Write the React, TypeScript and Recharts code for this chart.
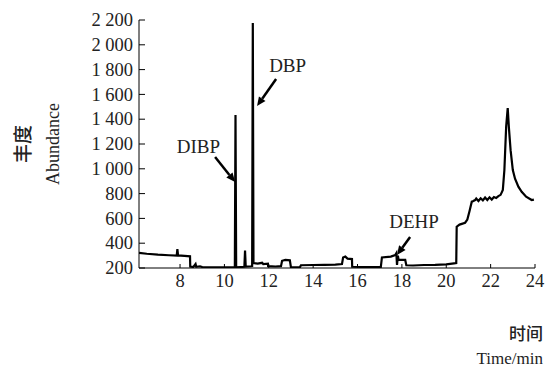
import React from 'react';
import { LineChart, Line, XAxis, YAxis, ReferenceLine, ReferenceDot } from 'recharts';

const times = [
  6.15, 6.5, 7.0, 7.5, 7.85, 7.88, 7.91, 8.2, 8.45, 8.46, 8.6, 8.7, 8.73, 8.9, 9.0, 9.5, 10.0,
  10.47, 10.5, 10.53, 10.9, 10.93, 10.96, 11.2, 11.25, 11.28, 11.31, 11.5, 11.7, 11.75, 11.96,
  11.97, 12.3, 12.55, 12.6, 12.75, 12.95, 13.0, 13.4, 13.45, 14.0, 14.5, 15.0, 15.3, 15.35,
  15.45, 15.55, 15.75, 15.76, 16.5, 17.05, 17.1, 17.5, 17.7, 17.75, 17.78, 17.82, 17.85, 18.15,
  18.2, 18.5, 19.0, 19.5, 20.0, 20.35, 20.45, 20.47, 20.6, 20.85, 20.95, 21.05, 21.15, 21.2,
  21.3, 21.35, 21.45, 21.55, 21.65, 21.75, 21.85, 21.95, 22.05, 22.15, 22.25, 22.35, 22.45,
  22.55, 22.62, 22.7, 22.77, 22.82, 22.9, 23.0, 23.1, 23.25, 23.4, 23.6, 23.85, 23.95,
];
const abundance = [
  322, 315, 308, 303, 300, 352, 302, 298, 294, 212, 208, 232, 210, 214, 208, 206, 205,
  206, 1434, 206, 210, 340, 212, 214, 216, 2176, 240, 236, 242, 232, 235,
  215, 212, 215, 258, 265, 262, 205, 205, 222, 224, 226, 228, 232, 285,
  292, 276, 272, 210, 208, 208, 285, 292, 305, 320, 225, 300, 265, 265,
  222, 220, 224, 226, 230, 238, 240, 533, 550, 565, 590, 660, 735, 738,
  748, 760, 740, 762, 745, 768, 748, 770, 752, 772, 765, 780, 790,
  830, 990, 1340, 1490, 1340, 1150, 990, 920, 856, 815, 775, 748, 752,
];

const xTicks = [8, 10, 12, 14, 16, 18, 20, 22, 24];
const yTicks = [200, 400, 600, 800, 1000, 1200, 1400, 1600, 1800, 2000, 2200];

const annNames = ['DIBP', 'DBP', 'DEHP'];
const annTextT = [8.83, 12.85, 18.55];
const annTextV = [1127, 1781, 522];
const annTailT = [9.58, 12.33, 18.37];
const annTailV = [1095, 1724, 450];
const annHeadT = [10.48, 11.47, 17.78];
const annHeadV = [894, 1506, 305];

const data = times.map((t, i) => ({ t, v: abundance[i] }));

const fmtY = (v: number) =>
  v >= 1000 ? `${Math.floor(v / 1000)} ${String(v % 1000).padStart(3, '0')}` : String(v);

const SERIF = '"Liberation Serif", "Times New Roman", serif';
const CJK = '"Noto Sans CJK SC", sans-serif';
const serifStyle = { fontFamily: SERIF };

const YTick = (p: any) => (
  <g>
    <line x1={p.x + 6} x2={p.x + 12} y1={p.y} y2={p.y} stroke="#000" strokeWidth={1} />
    <text x={p.x} y={p.y} dy="0.34em" textAnchor="end" style={serifStyle} fontSize={18.5} fill="#222">
      {fmtY(p.payload.value)}
    </text>
  </g>
);

const XTick = (p: any) => (
  <g>
    <line x1={p.x} x2={p.x} y1={p.y - 10} y2={p.y - 14} stroke="#000" strokeWidth={1} />
    <text x={p.x} y={p.y + 9} textAnchor="middle" style={serifStyle} fontSize={18.5} fill="#222">
      {p.payload.value}
    </text>
  </g>
);

const Arrow = (p: any) => {
  const { x1, y1, x2, y2 } = p;
  const dx = x2 - x1;
  const dy = y2 - y1;
  const len = Math.sqrt(dx * dx + dy * dy);
  const ux = dx / len;
  const uy = dy / len;
  const hl = 9;
  const hw = 4;
  const bx = x2 - ux * hl;
  const by = y2 - uy * hl;
  return (
    <g>
      <line x1={x1} y1={y1} x2={bx} y2={by} stroke="#000" strokeWidth={2.5} />
      <polygon
        points={`${x2},${y2} ${bx - uy * hw},${by + ux * hw} ${bx + uy * hw},${by - ux * hw}`}
        fill="#000"
      />
    </g>
  );
};

export default function App() {
  return (
    <div style={{ position: 'absolute', left: 0, top: 0, width: 551, height: 371, background: '#fff' }}>
      <LineChart
        width={551}
        height={371}
        data={data}
        margin={{ top: 20, right: 16, bottom: 73, left: 79 }}
      >
        <XAxis
          dataKey="t"
          type="number"
          domain={[6.15, 24]}
          ticks={xTicks}
          allowDataOverflow
          height={30}
          axisLine={{ stroke: '#000', strokeWidth: 1 }}
          tickLine={false}
          tickSize={0}
          tickMargin={10}
          tick={<XTick />}
          interval={0}
        />
        <YAxis
          type="number"
          domain={[200, 2200]}
          ticks={yTicks}
          allowDataOverflow
          width={60}
          axisLine={{ stroke: '#000', strokeWidth: 1 }}
          tickLine={false}
          tickSize={0}
          tickMargin={6}
          tick={<YTick />}
          interval={0}
        />
        <Line
          dataKey="v"
          type="linear"
          stroke="#000"
          strokeWidth={2.2}
          dot={false}
          isAnimationActive={false}
        />
        {annNames.map((n, i) => (
          <ReferenceLine
            key={'l' + n}
            segment={[
              { x: annTailT[i], y: annTailV[i] },
              { x: annHeadT[i], y: annHeadV[i] },
            ]}
            ifOverflow="visible"
            shape={<Arrow />}
          />
        ))}
        {annNames.map((n, i) => (
          <ReferenceDot
            key={'d' + n}
            x={annTextT[i]}
            y={annTextV[i]}
            r={0}
            ifOverflow="visible"
            shape={(p: any) => (
              <text x={p.cx} y={p.cy} textAnchor="middle" style={serifStyle} fontSize={19} fill="#222">
                {n}
              </text>
            )}
          />
        ))}
      </LineChart>
      <svg
        width={551}
        height={371}
        style={{ position: 'absolute', left: 0, top: 0, pointerEvents: 'none' }}
      >
        <text
          transform="translate(30,144) rotate(-90)"
          textAnchor="middle"
          fontFamily={CJK}
          fontSize={19}
          fontWeight={500}
          fill="#222"
        >
          丰度
        </text>
        <text
          transform="translate(59,144) rotate(-90)"
          textAnchor="middle"
          style={serifStyle}
          fontSize={18}
          fill="#222"
        >
          Abundance
        </text>
        <text x={543} y={340} textAnchor="end" fontFamily={CJK} fontSize={17} fontWeight={500} fill="#222">
          时间
        </text>
        <text x={543} y={364} textAnchor="end" style={serifStyle} fontSize={17} fill="#222">
          Time/min
        </text>
      </svg>
    </div>
  );
}
